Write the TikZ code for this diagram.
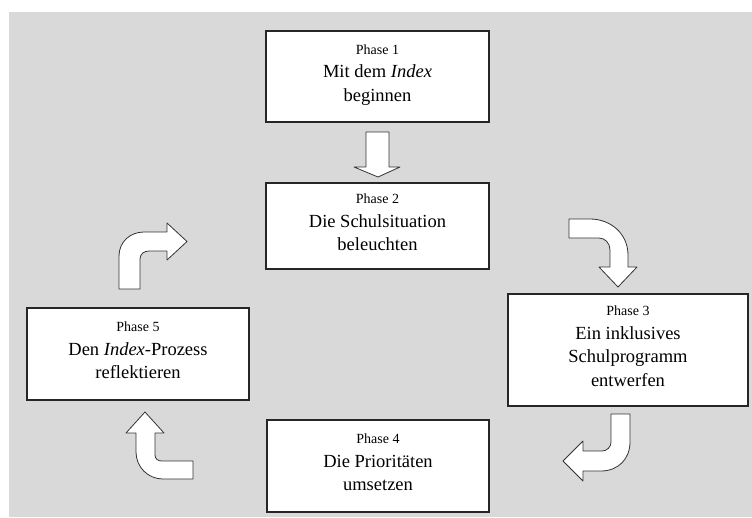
\documentclass[tikz,border=0pt]{standalone}
\usepackage{fontspec}
\setmainfont{Liberation Serif}
\definecolor{bggray}{RGB}{217,217,217}
\tikzset{
  phasebox/.style={draw=black!85, line width=1.1pt, fill=white, align=center, inner sep=0pt,
    font=\fontsize{18.5}{23.5}\selectfont},
  blockarrow/.style={draw=black!80, line width=0.8pt, fill=white, line join=round},
}
\newcommand\phaselabel[1]{{\fontsize{14}{23}\selectfont Phase #1}}
\begin{document}
\begin{tikzpicture}[x=1pt,y=-1pt]
\useasboundingbox (0,0) rectangle (752,517);
\fill[white] (0,0) rectangle (752,517);
\fill[bggray] (9,12) rectangle (752,517);

\node[phasebox, minimum width=223pt, minimum height=91pt] (p1) at (377.5,76.5)
  {\phaselabel{1}\\Mit dem \textit{Index}\\beginnen\\[-16pt]\mbox{}};
\node[phasebox, minimum width=223pt, minimum height=86pt] (p2) at (377.5,226)
  {\phaselabel{2}\\Die Schulsituation\\beleuchten\\[-16pt]\mbox{}};
\node[phasebox, minimum width=240pt, minimum height=112pt] (p3) at (628,350)
  {\phaselabel{3}\\Ein inklusives\\Schulprogramm\\entwerfen\\[-16pt]\mbox{}};
\node[phasebox, minimum width=222pt, minimum height=92pt] (p4) at (378,466)
  {\phaselabel{4}\\Die Prioritäten\\umsetzen\\[-16pt]\mbox{}};
\node[phasebox, minimum width=222pt, minimum height=92pt] (p5) at (138,354)
  {\phaselabel{5}\\Den \textit{Index}-Prozess\\reflektieren\\[-16pt]\mbox{}};

% Phase 1 -> Phase 2
\draw[blockarrow] (366,132) -- (389,132) -- (389,167) -- (400,167) -- (378,177)
  -- (354,167) -- (366,167) -- cycle;
% Phase 2 -> Phase 3
\draw[blockarrow] (569,219) -- (590,219) .. controls (611,219) and (628,234) .. (628,255)
  -- (628,267) -- (637,267) -- (618,287) -- (599,267) -- (610,267) -- (610,250)
  .. controls (610,243) and (605,238) .. (599,238) -- (569,238) -- cycle;
% Phase 3 -> Phase 4
\draw[blockarrow] (611,414) -- (630,414) -- (630,442) .. controls (630,459) and (618,471) .. (601,471)
  -- (583,471) -- (583,481) -- (563,461) -- (583,441) -- (583,451) -- (602,451)
  .. controls (607,451) and (611,447) .. (611,442) -- cycle;
% Phase 4 -> Phase 5
\draw[blockarrow] (145,412) -- (164,433) -- (155,433) -- (155,455)
  .. controls (155,459) and (158,461) .. (162,461) -- (193,461) -- (193,479) -- (163,479)
  .. controls (148,479) and (136,467) .. (136,452) -- (136,433) -- (126,433) -- cycle;
% Phase 5 -> Phase 2
\draw[blockarrow] (119,289) -- (119,256) .. controls (119,242) and (130,232) .. (144,232)
  -- (167,232) -- (167,223) -- (187,241.5) -- (167,260) -- (167,251) -- (149,251)
  .. controls (144,251) and (140,254) .. (140,259) -- (140,289) -- cycle;
\end{tikzpicture}
\end{document}
